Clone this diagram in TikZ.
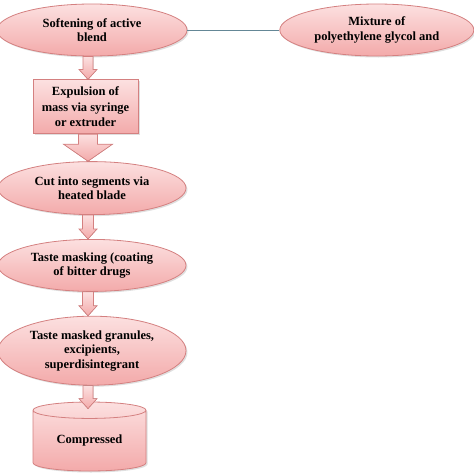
\documentclass[tikz,border=0pt]{standalone}
\usepackage{fontspec}
\setmainfont{Liberation Serif}
\usepackage{xcolor}
\usepackage{tikz}
\usetikzlibrary{positioning, shapes.geometric, shadows, calc}

\definecolor{pinkfill}{RGB}{252,224,224}
\definecolor{pinkdeep}{RGB}{243,170,170}
\definecolor{pinkline}{RGB}{212,128,128}
\definecolor{linkline}{RGB}{100,135,150}

% block arrow: from, to, shaft half width, head half width, head length
\newcommand{\blockarrow}[5]{%
  \filldraw[barrow] let \p1=(#1), \p2=(#2), \p3=(col) in
    (\x3-#3,\y1) -- (\x3-#3,\y2+#5) -- (\x3-#4,\y2+#5) -- (\x3,\y2)
    -- (\x3+#4,\y2+#5) -- (\x3+#3,\y2+#5) -- (\x3+#3,\y1) -- cycle;}

\begin{document}
\begin{tikzpicture}[
    x=1pt, y=1pt,
    font=\fontsize{12.5}{14.5}\selectfont\bfseries,
    pinkish/.style={draw=pinkline, line width=0.8pt, top color=pinkfill,
                    bottom color=pinkdeep, align=center, inner sep=0pt,
                    drop shadow={opacity=0.25, shadow xshift=1.5pt, shadow yshift=-1.5pt}},
    oval/.style={pinkish, ellipse, minimum width=188pt, minimum height=52pt},
    box/.style={pinkish, rectangle, minimum width=105pt, minimum height=54pt},
    drum/.style={pinkish, cylinder, shape border rotate=90, aspect=0.25,
                 minimum width=113pt, minimum height=69pt},
    barrow/.style={draw=pinkline, line width=0.7pt, top color=pinkfill,
                   bottom color=pinkdeep},
    link/.style={draw=linkline, line width=0.6pt},
]
    \useasboundingbox (0,0) rectangle (474,-474);
    \coordinate (col) at (88,0);

    % Top row
    \node[oval, minimum width=190pt] (soft) at (92,-30) {Softening of active\\blend};
    \node[oval, minimum width=194pt, right=92pt of soft] (mix) {Mixture of\\polyethylene glycol and};

    % Column
    \node[box, below=23pt of soft, xshift=-6.5pt, font=\fontsize{12.5}{15.5}\selectfont\bfseries] (expul)
        {Expulsion of\\mass via syringe\\or extruder};
    \node[oval, minimum height=53pt, below=27pt of expul, xshift=6.5pt] (cut)
        {Cut into segments via\\heated blade};
    \node[oval, below=24pt of cut] (taste) {Taste masking (coating\\of bitter drugs};
    \node[oval, minimum height=69pt, below=24pt of taste] (gran)
        {Taste masked granules,\\excipients,\\superdisintegrant};
    \node[drum, below=16pt of gran, xshift=-2.5pt] (comp) {Compressed};
    \coordinate (comptop) at ($(comp.north)+(0,-7)$);

    % Connectors
    \draw[link] (soft) -- (mix);
    \blockarrow{soft.south}{expul.north}{5}{9}{10}
    \blockarrow{expul.south}{cut.north}{9.5}{24.5}{17}
    \blockarrow{cut.south}{taste.north}{5.5}{9}{10}
    \blockarrow{taste.south}{gran.north}{5.5}{9}{10}
    \blockarrow{gran.south}{comptop}{5}{9}{10}
\end{tikzpicture}
\end{document}
